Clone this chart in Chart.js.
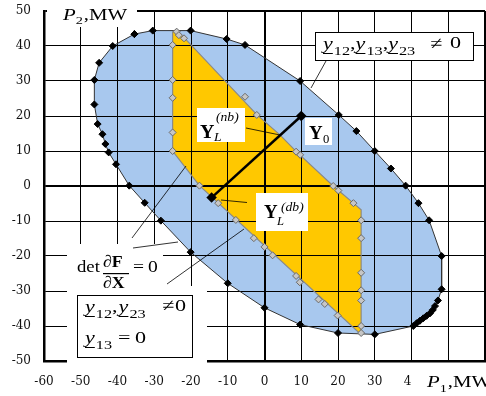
<!DOCTYPE html>
<html>
<head>
<meta charset="utf-8">
<script src="https://cdn.jsdelivr.net/npm/chart.js@4/dist/chart.umd.min.js"></script>
<style>
  html, body { margin: 0; padding: 0; background: #fff; }
  canvas { display: block; }
</style>
</head>
<body>
<canvas id="c" width="486" height="396"></canvas>
<script>
// Axis ticks (P1 and P2, MW)
const xTicks = [-60, -50, -40, -30, -20, -10, 0, 10, 20, 30, 40, 50, 60];
const xTickText = ['-60', '-50', '-40', '-30', '-20', '-10', '0', '10', '20', '30', '40', '', ''];
const yTicks = [-50, -40, -30, -20, -10, 0, 10, 20, 30, 40, 50];
const yTickText = ['-50', '-40', '-30', '-20', '-10', '0', '10', '20', '30', '40', '50'];

// Outer feasibility boundary (all y12, y13, y23 non-zero), computed points
const outerX = [-35.4, -30.4, -20.1, -10.3, -5.3, 9.7, 20.2, 25.0, 30.0, 34.4, 38.4, 41.9, 44.8, 48.2, 48.2, 47.2, 46.4, 45.8, 45.0, 44.1, 43.2, 42.3, 41.4, 40.5, 30.0, 20.0, 9.7, 0.0, -10.0, -20.1, -28.2, -32.6, -36.8, -40.4, -42.4, -43.3, -44.1, -45.4, -46.3, -46.3, -45.0, -41.3];
const outerY = [43.4, 44.4, 44.4, 42.0, 40.3, 30.0, 20.3, 15.7, 10.0, 5.0, 0.1, -4.9, -9.8, -20.0, -29.5, -32.7, -34.3, -35.4, -36.4, -37.1, -37.8, -38.5, -39.2, -40.0, -42.4, -42.0, -39.6, -34.8, -27.8, -18.9, -9.9, -4.8, 0.1, 6.2, 9.6, 12.0, 14.8, 17.7, 23.3, 30.3, 35.2, 40.0];

// Inner region (y13 = 0): outline vertices
const innerX = [-25.0, -24.2, -21.9, -19.8, -2.1, 4.2, 8.6, 18.7, 24.2, 26.3, 26.3, 25.5, -17.7, -25.0];
const innerY = [44.0, 44.6, 42.4, 40.1, 20.4, 14.6, 9.9, 0.0, -4.9, -6.8, -42.0, -41.7, 0.1, 10.0];

// Inner region: computed boundary points
const innerPtX = [-23.9, -23.3, -21.9, -25.0, -25.0, -25.0, -25.0, -25.0, -17.7, -12.6, -7.8, -2.9, 0.0, 2.2, 8.6, 9.6, 14.7, 16.4, 19.9, 26.3, 26.3, 26.3, 26.3, 26.3, 26.3, 26.3, 24.2, 20.1, 18.7, 9.7, 8.6, -2.1, -5.3];
const innerPtY = [44.1, 43.1, 42.2, 40.3, 30.3, 25.2, 15.3, 10.0, 0.1, -4.9, -9.7, -14.9, -17.4, -19.8, -25.7, -27.5, -32.4, -33.7, -37.0, -42.0, -40.0, -32.7, -29.8, -24.8, -14.9, -9.8, -4.9, -1.3, 0.0, 8.9, 9.8, 20.3, 25.5];

// Ray from the operating point Y0 to the boundary point Y_L(db)
const rayX = [10, -14.4];
const rayY = [20, -3.3];

const pts = (xs, ys) => xs.map((x, i) => ({ x, y: ys[i] }));
const closed = (xs, ys) => { const p = pts(xs, ys); p.push({ ...p[0] }); return p; };

const serif = '"Liberation Serif", "Times New Roman", serif';

// Grid lines go over the region fills
const gridOverFill = {
  id: 'gridOverFill',
  beforeDatasetsDraw(chart) {
    chart.scales.x.drawGrid(chart.chartArea);
    chart.scales.y.drawGrid(chart.chartArea);
  }
};

function put(ctx, s, x, y, font, sx) {
  sx = sx || 1;
  ctx.save();
  ctx.font = font;
  const w = ctx.measureText(s).width * sx;
  ctx.translate(x, y);
  ctx.scale(sx, 1);
  ctx.fillText(s, 0, 0);
  ctx.restore();
  return x + w;
}
function uline(ctx, x0, x1, y) {
  ctx.fillRect(x0, y, x1 - x0, 1);
}
function line(ctx, x0, y0, x1, y1) {
  ctx.beginPath(); ctx.moveTo(x0, y0); ctx.lineTo(x1, y1); ctx.stroke();
}

const annotations = {
  id: 'annotations',
  afterDraw(chart) {
    const ctx = chart.ctx;
    ctx.save();
    ctx.textBaseline = 'alphabetic';
    // label backgrounds
    ctx.fillStyle = '#fff';
    ctx.fillRect(47, 0, 90, 27);
    ctx.fillRect(412, 363, 74, 33);
    ctx.fillRect(315, 32, 159, 29);
    ctx.fillRect(197, 108, 48, 34);
    ctx.fillRect(305, 118, 27, 27);
    ctx.fillRect(256, 193, 52, 38);
    ctx.fillRect(67, 244, 96, 42);
    ctx.fillRect(67, 286, 140, 77);

    ctx.strokeStyle = '#000';
    ctx.lineWidth = 1;
    ctx.strokeRect(315.5, 32.5, 158, 28);
    ctx.strokeRect(77.5, 295.5, 115, 62);

    // leader lines
    ctx.lineWidth = 0.8;
    line(ctx, 326, 61, 311, 88);
    line(ctx, 246, 128, 280, 135);
    line(ctx, 221, 200, 247, 202.5);
    line(ctx, 132, 238, 186, 166);
    line(ctx, 133, 248, 178, 242);
    line(ctx, 167, 284, 244, 229);

    ctx.fillStyle = '#000';
    const it = (s) => 'italic ' + s + 'px ' + serif;
    const rg = (s) => s + 'px ' + serif;
    const bd = (s) => 'bold ' + s + 'px ' + serif;

    // axis titles
    let x = put(ctx, 'P', 63, 20, it(16), 1.3);
    x = put(ctx, '2', x, 24, rg(11), 1.3);
    put(ctx, ',MW', x + 1, 20, rg(16), 1.3);
    x = put(ctx, 'P', 427, 387, it(16), 1.3);
    x = put(ctx, '1', x, 392, rg(11), 1.3);
    put(ctx, ',MW', x + 1, 387, rg(16), 1.3);

    // underlined complex admittance symbol with a subscript
    const SX = 1.3;
    const yv = (xx, base, sub) => {
      const e = put(ctx, 'y', xx, base, it(17), SX);
      uline(ctx, xx, e, base + 4);
      return put(ctx, sub, e + 1, base + 6, rg(12.5), SX);
    };

    // y12, y13, y23 != 0
    x = yv(323, 49, '12');
    x = put(ctx, ',', x, 49, rg(17), SX);
    x = yv(x, 49, '13');
    x = put(ctx, ',', x, 49, rg(17), SX);
    yv(x, 49, '23');
    put(ctx, '\u2260', 430, 49, rg(17), SX);
    put(ctx, '0', 450, 48, rg(17), SX);

    // Y_L^(nb)
    put(ctx, 'Y', 200, 138, bd(19), 1.05);
    put(ctx, 'L', 214, 141, it(13), 1.05);
    put(ctx, '(nb)', 216, 121, it(13), 1.05);
    // Y_0
    put(ctx, 'Y', 309, 138.5, bd(18), 1.05);
    put(ctx, '0', 323, 143, rg(12), 1.05);
    // Y_L^(db)
    put(ctx, 'Y', 264, 218, bd(18), 1.05);
    put(ctx, 'L', 277, 225, it(12), 1.05);
    put(ctx, '(db)', 281, 211, it(13), 1.05);

    // det dF/dX = 0
    put(ctx, 'det', 77, 272, rg(17), 1.1);
    x = put(ctx, '\u2202', 103, 267, it(17), 1.05);
    put(ctx, 'F', x, 267, bd(17), 1.05);
    ctx.fillRect(103, 273, 26, 1.2);
    x = put(ctx, '\u2202', 103, 288, it(17), 1.05);
    put(ctx, 'X', x, 288, bd(17), 1.05);
    put(ctx, '=', 133, 272, rg(17), 1.15);
    put(ctx, '0', 148, 272, rg(17), 1.15);

    // y12, y23 != 0 ; y13 = 0
    x = yv(85, 312, '12');
    x = put(ctx, ',', x, 312, rg(17), SX);
    yv(x + 1, 312, '23');
    put(ctx, '\u2260', 162, 311, rg(17), SX);
    put(ctx, '0', 175, 311, rg(17), SX);
    yv(85, 343, '13');
    put(ctx, '=', 118, 343, rg(17), SX);
    put(ctx, '0', 135, 343, rg(17), SX);

    ctx.restore();
  }
};

new Chart(document.getElementById('c'), {
  type: 'scatter',
  data: {
    datasets: [
      {
        label: 'ray',
        data: pts(rayX, rayY),
        showLine: true,
        borderColor: '#000',
        borderWidth: 2.5,
        pointStyle: 'rectRot',
        pointRadius: 3.5,
        pointBackgroundColor: '#000',
        pointBorderColor: '#000',
        order: 0
      },
      {
        label: 'inner points',
        data: pts(innerPtX, innerPtY),
        showLine: false,
        pointStyle: 'rectRot',
        pointRadius: 3.5,
        pointBackgroundColor: '#c6c6c6',
        pointBorderColor: '#6a6a6a',
        pointBorderWidth: 1,
        order: 1
      },
      {
        label: 'inner region',
        data: closed(innerX, innerY),
        showLine: true,
        fill: 'shape',
        backgroundColor: '#FFC800',
        borderColor: '#8a8a8a',
        borderWidth: 1.2,
        pointRadius: 0,
        tension: 0,
        order: 2
      },
      {
        label: 'outer region',
        data: closed(outerX, outerY),
        showLine: true,
        fill: 'shape',
        backgroundColor: '#A8C8EE',
        borderColor: '#333',
        borderWidth: 1,
        pointStyle: 'rectRot',
        pointRadius: 3.5,
        pointBackgroundColor: '#000',
        pointBorderColor: '#000',
        tension: 0,
        order: 3
      }
    ]
  },
  options: {
    responsive: false,
    animation: false,
    events: [],
    layout: { autoPadding: false, padding: { top: 11, right: 1, left: 0, bottom: 0 } },
    plugins: {
      legend: { display: false },
      tooltip: { enabled: false },
      filler: { drawTime: 'beforeDatasetsDraw' }
    },
    scales: {
      x: {
        type: 'linear',
        min: -60,
        max: 60,
        afterFit: (s) => { s.height = 35; s.paddingLeft = 0; s.paddingRight = 0; },
        afterBuildTicks: (s) => { s.ticks = xTicks.map(v => ({ value: v })); },
        ticks: {
          autoSkip: false,
          maxRotation: 0,
          padding: 14,
          color: '#111',
          font: { family: '"DejaVu Serif", serif', size: 12 },
          callback: (v, i) => xTickText[i]
        },
        grid: {
          color: '#000',
          lineWidth: (c) => (c.tick && (c.tick.value === 0 || c.tick.value === 60)) ? 2 : 1,
          drawTicks: false
        },
        border: { color: '#000', width: 2.5 }
      },
      y: {
        type: 'linear',
        min: -50,
        max: 50,
        afterFit: (s) => { s.width = 44; s.paddingTop = 0; s.paddingBottom = 0; },
        afterBuildTicks: (s) => { s.ticks = yTicks.map(v => ({ value: v })); },
        ticks: {
          autoSkip: false,
          padding: 13,
          color: '#111',
          font: { family: '"DejaVu Serif", serif', size: 12 },
          callback: (v, i) => yTickText[i]
        },
        grid: {
          color: '#000',
          lineWidth: (c) => (c.tick && (c.tick.value === 0 || c.tick.value === 50)) ? 2 : 1,
          drawTicks: false
        },
        border: { color: '#000', width: 2.5 }
      }
    }
  },
  plugins: [gridOverFill, annotations]
});
</script>
</body>
</html>
